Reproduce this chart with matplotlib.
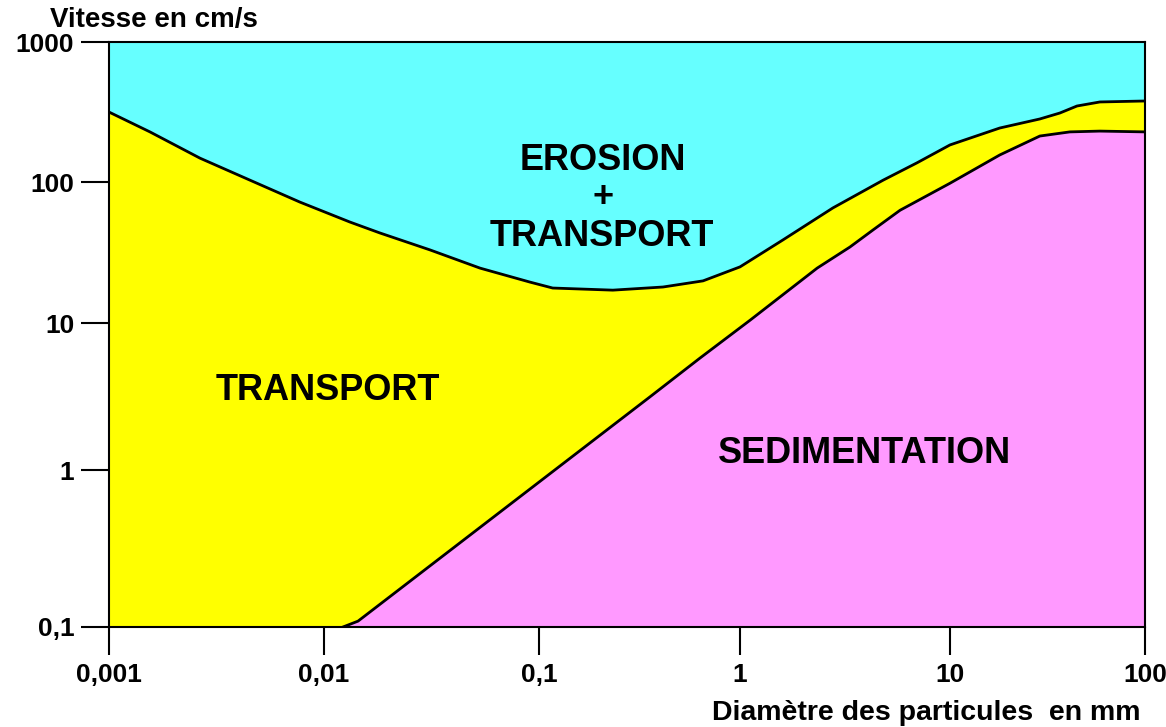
import numpy as np
import matplotlib
matplotlib.use("Agg")
import matplotlib.pyplot as plt

plt.rcParams['font.family'] = ['Liberation Sans', 'DejaVu Sans']
plt.rcParams['font.weight'] = 'bold'

# --- data (diameter in mm, speed in cm/s) ---
# upper curve: erosion threshold
erosion_d = [0.001, 0.00155, 0.00265, 0.00453, 0.00773, 0.0132, 0.0182, 0.0311,
             0.0532, 0.0908, 0.117, 0.233, 0.414, 0.655, 1.0, 1.60, 2.77, 4.80,
             6.96, 10.0, 18.0, 28.9, 36.6, 44.8, 58.7, 100.0]
erosion_v = [316, 228, 148, 103, 72, 52, 43.5, 33, 24.5, 19.5, 17.7, 17.1, 18.0,
             19.9, 25, 38.8, 65.5, 103, 137, 184, 243, 282, 311, 349, 373, 379]

# lower curve: sedimentation threshold
sedim_d = [0.01225, 0.0144, 0.356, 0.633, 1.12, 2.33, 3.34, 4.30, 5.78,
           10.0, 18.0, 28.9, 41.2, 58.7, 100.0]
sedim_v = [0.1, 0.109, 3.14, 5.78, 10.5, 24.5, 34.6, 45.7, 63, 98, 156,
           213, 228, 231, 228]

x_ticks = [0.001, 0.01, 0.1, 1, 10, 100]
x_labels = ['0,001', '0,01', '0,1', '1', '10', '100']
y_ticks = [0.1, 1, 10, 100, 1000]
y_labels = ['0,1', '1', '10', '100', '1000']

# the hand-drawn decades are not evenly spaced: piecewise log scale
x_dec = [-3, -2, -1, 0, 1, 2]
x_pos = [0, 215, 430, 631, 841, 1036]
y_dec = [-1, 0, 1, 2, 3]
y_pos = [0, 157, 304, 445, 585]


def make_scale(dec, pos):
    def fwd(v):
        v = np.clip(np.asarray(v, dtype=float), 1e-12, None)
        return np.interp(np.log10(v), dec, pos)

    def inv(p):
        return 10 ** np.interp(np.asarray(p, dtype=float), pos, dec)
    return fwd, inv


fig = plt.figure(figsize=(11.66, 7.27), dpi=100)
ax = fig.add_axes([109 / 1166, 100 / 727, 1036 / 1166, 585 / 727])
ax.set_xscale('function', functions=make_scale(x_dec, x_pos))
ax.set_yscale('function', functions=make_scale(y_dec, y_pos))
ax.set_xlim(0.001, 100)
ax.set_ylim(0.1, 1000)

cyan = '#66ffff'
yellow = '#ffff00'
pink = '#ff99ff'

ax.fill_between(erosion_d, erosion_v, 1000, color=cyan, lw=0)
ax.fill_between(erosion_d, 0.1, erosion_v, color=yellow, lw=0)
ax.fill_between(sedim_d, 0.1, sedim_v, color=pink, lw=0)
ax.plot(erosion_d, erosion_v, color='black', lw=2, solid_joinstyle='round')
ax.plot(sedim_d, sedim_v, color='black', lw=2, solid_joinstyle='round')

ax.set_xticks(x_ticks, x_labels)
ax.set_yticks(y_ticks, y_labels)
ax.minorticks_off()
ax.tick_params(axis='both', direction='out', length=20, width=1.5,
               labelsize=19, color='black')
ax.tick_params(axis='x', pad=6)
ax.tick_params(axis='y', pad=5)
for s in ax.spines.values():
    s.set_linewidth(1.5)

tk = dict(fontsize=26, fontweight='bold', ha='center', va='center',
          transform=ax.transAxes)
ax.text(0.477, 0.798, 'EROSION', **tk)
ax.text(0.477, 0.735, '+', **tk)
ax.text(0.476, 0.668, 'TRANSPORT', **tk)
ax.text(0.211, 0.405, 'TRANSPORT', **tk)
ax.text(0.729, 0.297, 'SEDIMENTATION', **tk)

fig.text(0.043, 0.9725, 'Vitesse en cm/s', fontsize=20, fontweight='bold',
         ha='left', va='center')
fig.text(0.978, 0.019, 'Diamètre des particules  en mm', fontsize=20.5,
         fontweight='bold', ha='right', va='center')

fig.savefig('out.png', dpi=100)
